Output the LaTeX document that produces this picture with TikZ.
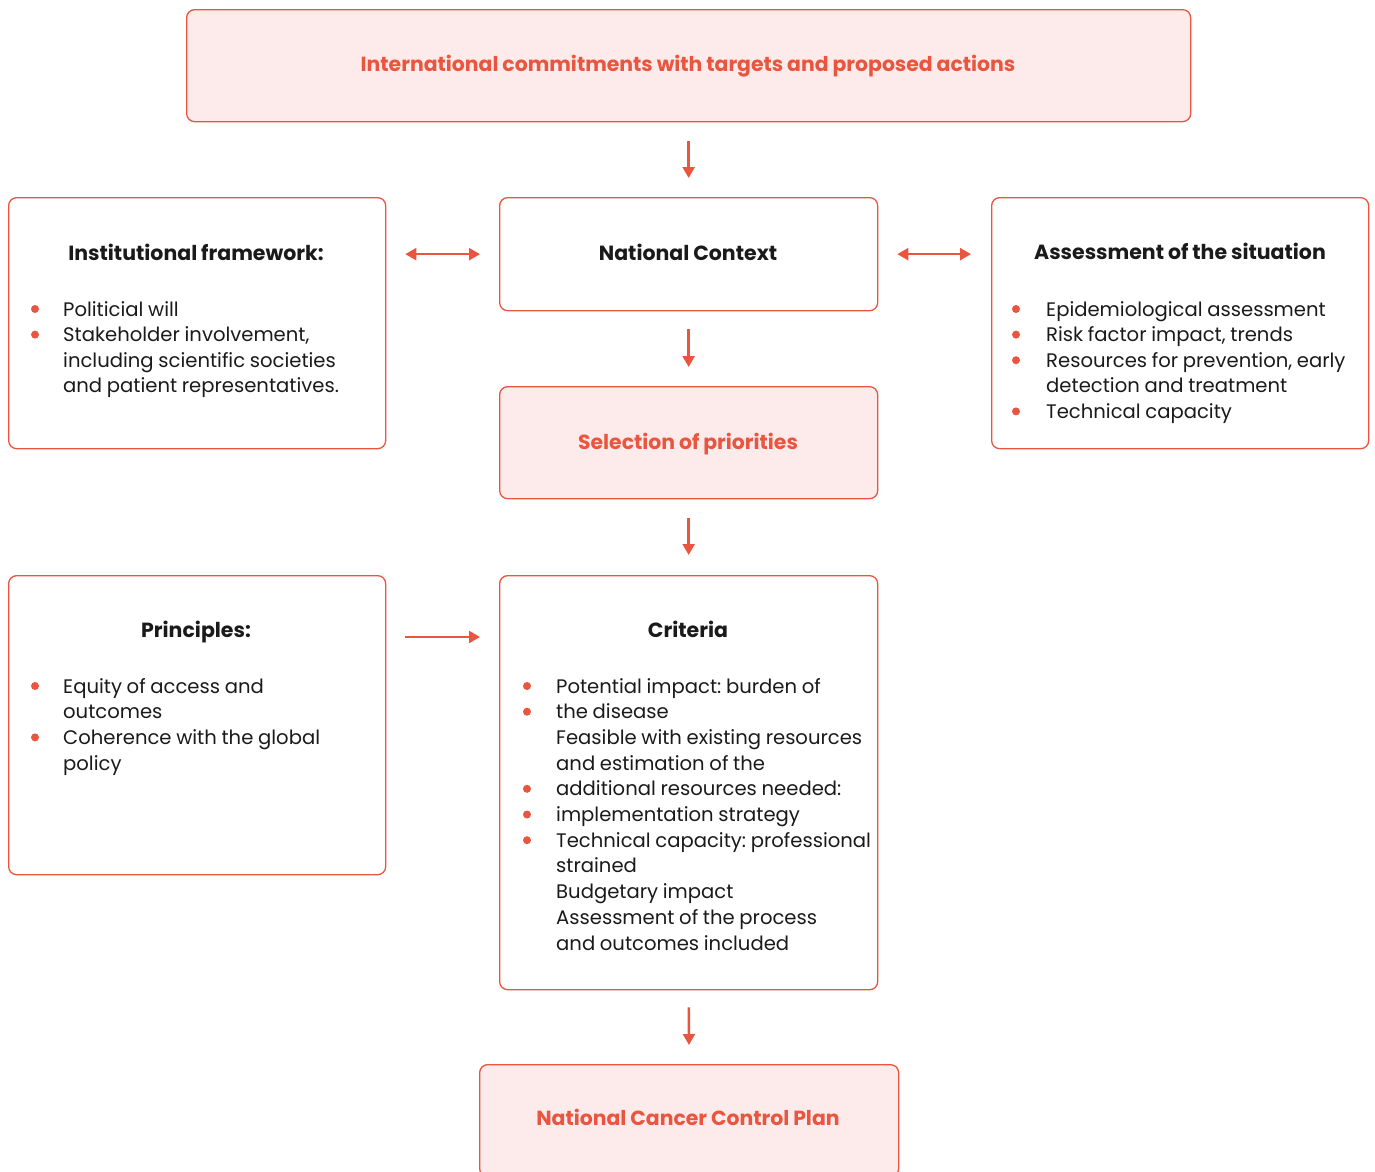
\documentclass[tikz,border=0pt]{standalone}
\usepackage{fontspec}
\setmainfont{Poppins}[WordSpace=0.9]
\usetikzlibrary{arrows.meta,calc}
\definecolor{cred}{HTML}{E9553F}
\definecolor{cpink}{HTML}{FCEBEA}
\definecolor{ctext}{HTML}{1A1A1A}
\frenchspacing
\begin{document}
\begin{tikzpicture}[x=1pt,y=-1pt,
  box/.style={draw=cred, line width=1.3pt, rounded corners=8pt, inner sep=0pt, anchor=north west},
  pinkbox/.style={box, fill=cpink},
  redtitle/.style={text=cred, font=\fontsize{20.4}{24}\selectfont\bfseries, inner sep=0pt, anchor=base},
  blacktitle/.style={text=ctext, font=\fontsize{20.5}{24}\selectfont\bfseries, inner sep=0pt, anchor=base},
  body/.style={text=ctext, font=\fontsize{19.6}{25}\selectfont\frenchspacing, inner sep=0pt, anchor=base west},
  bul/.style={circle, fill=cred, inner sep=0pt, minimum size=8pt},
  arr/.style={draw=cred, line width=2.4pt, -{Triangle[length=11pt,width=12pt]}},
  darr/.style={draw=cred, line width=2.4pt, {Triangle[length=11pt,width=12pt]}-{Triangle[length=11pt,width=12pt]}}
]
\useasboundingbox (0,0) rectangle (1375,1171);

% boxes
\node[pinkbox, minimum width=1004pt, minimum height=112pt] (top) at (186,9) {};
\node[box, minimum width=377pt, minimum height=251pt] (inst) at (8,197) {};
\node[box, minimum width=378pt, minimum height=113pt] (nat) at (499,197) {};
\node[box, minimum width=377pt, minimum height=251pt] (assess) at (991,197) {};
\node[pinkbox, minimum width=378pt, minimum height=112pt] (sel) at (499,386) {};
\node[box, minimum width=377pt, minimum height=299pt] (prin) at (8,575) {};
\node[box, minimum width=378pt, minimum height=414pt] (crit) at (499,575) {};
\node[pinkbox, minimum width=419pt, minimum height=112pt] (nccp) at (479,1064) {};

% titles
\node[redtitle] (top-t) at (688,71) {International commitments with targets and proposed actions};
\node[blacktitle] (inst-t) at (196,260) {Institutional framework:};
\node[blacktitle] (nat-t) at (688,260) {National Context};
\node[blacktitle] (assess-t) at (1180,259) {Assessment of the situation};
\node[redtitle] (sel-t) at (688,449) {Selection of priorities};
\node[blacktitle] (prin-t) at (196,637) {Principles:};
\node[blacktitle] (crit-t) at (688,637) {Criteria};
\node[redtitle] (nccp-t) at (688,1125) {National Cancer Control Plan};

% institutional list
\foreach \t [count=\i] in {Politicial will, {Stakeholder involvement,}, including scientific societies, and patient representatives.}
  \node[body] (inst-l\i) at (63,{316+(\i-1)*25.6}) {\t};
\foreach \i in {0,1}
  \node[bul] (inst-b\i) at (35,{309+\i*25.6}) {};

% assessment list
\foreach \t [count=\i] in {Epidemiological assessment, {Risk factor impact, trends}, {Resources for prevention, early}, detection and treatment, Technical capacity}
  \node[body] (assess-l\i) at (1046,{316+(\i-1)*25.6}) {\t};
\foreach \i in {0,1,2,4}
  \node[bul] (assess-b\i) at (1016,{309+\i*25.6}) {};

% principles list
\foreach \t [count=\i] in {Equity of access and, outcomes, Coherence with the global, policy}
  \node[body] (prin-l\i) at (63,{693+(\i-1)*25.7}) {\t};
\foreach \i in {0,2}
  \node[bul] (prin-b\i) at (35,{686+\i*25.7}) {};

% criteria list
\foreach \t [count=\i] in {Potential impact: burden of, the disease, Feasible with existing resources, and estimation of the, additional resources needed:, implementation strategy, Technical capacity: professional, strained, Budgetary impact, Assessment of the process, and outcomes included}
  \node[body] (crit-l\i) at (556,{693+(\i-1)*25.7}) {\t};
\foreach \i in {0,1,4,5,6}
  \node[bul] (crit-b\i) at (527,{686+\i*25.7}) {};

% connectors
\draw[arr, shorten <=19pt, shorten >=19pt] (top.south -| nat.north) -- (nat.north);
\draw[darr, shorten <=19pt, shorten >=19pt] (inst.east |- nat.center) -- (nat.west);
\draw[darr, shorten <=19pt, shorten >=20pt] (nat.east) -- (assess.west |- nat.center);
\draw[arr, shorten <=18pt, shorten >=19pt] (nat.south) -- (sel.north);
\draw[arr, shorten <=19pt, shorten >=20pt] (sel.south) -- (crit.north);
\draw[arr, shorten <=19pt, shorten >=19pt] ($(prin.north east)+(0,62)$) -- ($(crit.north west)+(0,62)$);
\draw[arr, shorten <=17pt, shorten >=19pt] (crit.south) -- (nccp.north);
\end{tikzpicture}
\end{document}
